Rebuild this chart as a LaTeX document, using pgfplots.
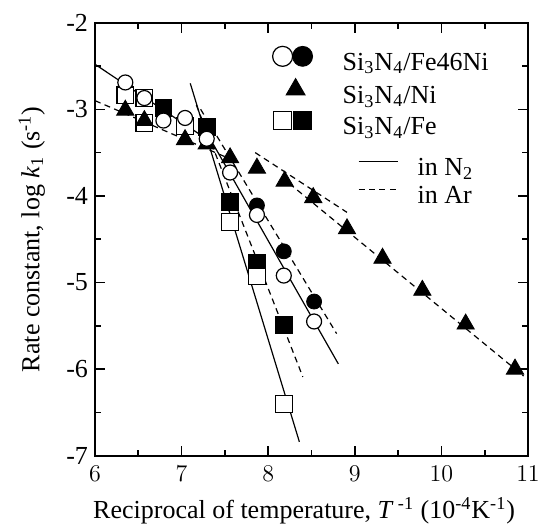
\documentclass[border=0pt]{standalone}
\usepackage{fontspec}
\setmainfont{Liberation Serif}
\usepackage{pgfplots}
\pgfplotsset{compat=1.18}
\begin{document}
\begin{tikzpicture}[font=\fontsize{13}{15.6}\selectfont]
\pgfplotsset{
  myaxis/.style={at={(0,0)}, anchor=south west, scale only axis,
    width=216.5pt, height=216.5pt, xmin=6, xmax=11, ymin=-7, ymax=-2},
  nline/.style={black, line width=0.6pt, no marks},
  aline/.style={black, line width=0.6pt, no marks, dash pattern=on 3pt off 2.2pt},
  ocirc/.style={only marks, mark=*, mark size=3.75pt, mark options={draw=black, fill=white, line width=0.6pt, solid}},
  fcirc/.style={only marks, mark=*, mark size=3.75pt, mark options={draw=black, fill=black, solid}},
  osq/.style={only marks, mark=square*, mark size=4.2pt, mark options={draw=black, fill=white, line width=0.6pt, solid}},
  fsq/.style={only marks, mark=square*, mark size=4.2pt, mark options={draw=black, fill=black, solid}},
  ftri/.style={only marks, mark=triangle*, mark size=5pt, mark options={draw=black, fill=black, solid}},
}
\begin{axis}[myaxis,
  xtick={6,7,8,9,10,11},
  ytick={-7,-6,-5,-4,-3,-2}, yticklabels={-7,-6,-5,-4,-3,-2},
  minor x tick num=1, minor y tick num=1,
  tick align=inside, major tick length=5pt, minor tick length=3pt,
  every tick/.style={black, line width=0.8pt},
  axis line style={line width=1pt},
  xticklabel style={yshift=-1.5pt},
  xlabel={Reciprocal of temperature, \textit{T}\,\textsuperscript{-1} (10\textsuperscript{-4}K\textsuperscript{-1})},
  ylabel={Rate constant, log \textit{k}\textsubscript{1} (s\textsuperscript{-1})},
  xlabel style={at={(axis description cs:0.483,-0.1455)}, anchor=base},
  ylabel style={at={(axis description cs:-0.146,0.5)}, anchor=center},
]
% fitted lines, in N2 (solid)
\addplot[nline] coordinates {(6.00,-2.48) (7.30,-3.35)};
\addplot[nline] coordinates {(7.10,-2.70) (8.36,-6.84)};
\addplot[nline] coordinates {(7.25,-3.20) (8.81,-5.94)};
% fitted lines, in Ar (dashed)
\addplot[aline] coordinates {(6.00,-2.90) (7.60,-3.59)};
\addplot[aline] coordinates {(7.85,-3.50) (8.91,-4.19)};
\addplot[aline] coordinates {(8.15,-3.78) (10.95,-6.08)};
\addplot[aline] coordinates {(7.17,-2.95) (8.40,-6.09)};
\addplot[aline] coordinates {(7.22,-3.00) (8.79,-5.59)};
% Si3N4/Fe in Ar (filled squares)
\addplot[fsq] coordinates {(6.79,-2.98) (7.29,-3.20) (7.56,-4.07) (7.87,-4.77) (8.18,-5.49)};
% Si3N4/Fe in N2 (open squares)
\addplot[osq] coordinates {(6.35,-2.84) (6.57,-2.87) (6.57,-3.16) (7.04,-3.19) (7.56,-4.30) (7.87,-4.93) (8.18,-6.40)};
% Si3N4/Ni in Ar (filled triangles)
\addplot[ftri] coordinates {(6.35,-3.01) (6.57,-3.13) (7.04,-3.35) (7.29,-3.40) (7.56,-3.56) (7.87,-3.68) (8.19,-3.83) (8.52,-4.02) (8.91,-4.38) (9.32,-4.72) (9.78,-5.09) (10.28,-5.48) (10.85,-6.00)};
% Si3N4/Fe46Ni in Ar (filled circles)
\addplot[fcirc] coordinates {(7.87,-4.11) (8.18,-4.64) (8.53,-5.22)};
% Si3N4/Fe46Ni in N2 (open circles)
\addplot[ocirc] coordinates {(6.35,-2.69) (6.57,-2.87) (6.79,-3.13) (7.04,-3.10) (7.29,-3.34) (7.56,-3.73) (7.87,-4.22) (8.18,-4.92) (8.53,-5.45)};
\end{axis}
% legend of symbols
\begin{axis}[myaxis, hide axis,
  legend style={draw=none, fill=none, inner sep=0pt, outer sep=0pt,
    at={(axis cs:8.044,-2.266)}, anchor=north west,
    nodes={inner sep=0pt, text height=9.75pt, text depth=4pt}, row sep=0pt},
  legend cell align=left]
\addlegendimage{legend image code/.code={\draw[line width=0.6pt, fill=white] (0pt,4pt) circle (5pt); \fill (10pt,4pt) circle (5pt); \path (29.85pt,4pt);}}
\addlegendentry{Si\textsubscript{3}N\textsubscript{4}/Fe46Ni}
\addlegendimage{legend image code/.code={\path (-5pt,4pt); \fill (6.5pt,4pt) ++(90:5.5pt) -- ++(-120:9.5pt) -- ++(0:9.5pt) -- cycle; \path (29.85pt,4pt);}}
\addlegendentry{Si\textsubscript{3}N\textsubscript{4}/Ni}
\addlegendimage{legend image code/.code={\draw[line width=0.6pt, fill=white] (-4.5pt,-0.5pt) rectangle (4.5pt,8.5pt); \fill (5.5pt,-0.5pt) rectangle (14.5pt,8.5pt); \path (29.85pt,4pt);}}
\addlegendentry{Si\textsubscript{3}N\textsubscript{4}/Fe}
\end{axis}
% legend of lines
\begin{axis}[myaxis, hide axis,
  legend style={draw=none, fill=none, inner sep=0pt, outer sep=0pt,
    at={(axis cs:9.037,-3.538)}, anchor=north west,
    nodes={inner sep=0pt, text height=10pt, text depth=4pt}, row sep=0pt},
  legend cell align=left]
\addlegendimage{legend image code/.code={\draw[line width=0.6pt] (0pt,4pt) -- (19.5pt,4pt); \path (29.35pt,4pt);}}
\addlegendentry{in N\textsubscript{2}}
\addlegendimage{legend image code/.code={\draw[line width=0.6pt, dash pattern=on 3pt off 2.2pt] (0pt,4pt) -- (19.5pt,4pt); \path (29.35pt,4pt);}}
\addlegendentry{in Ar}
\end{axis}
\pgfresetboundingbox
\path (-47.5pt,-35.5pt) rectangle (223pt,227.85pt);
\end{tikzpicture}
\end{document}
